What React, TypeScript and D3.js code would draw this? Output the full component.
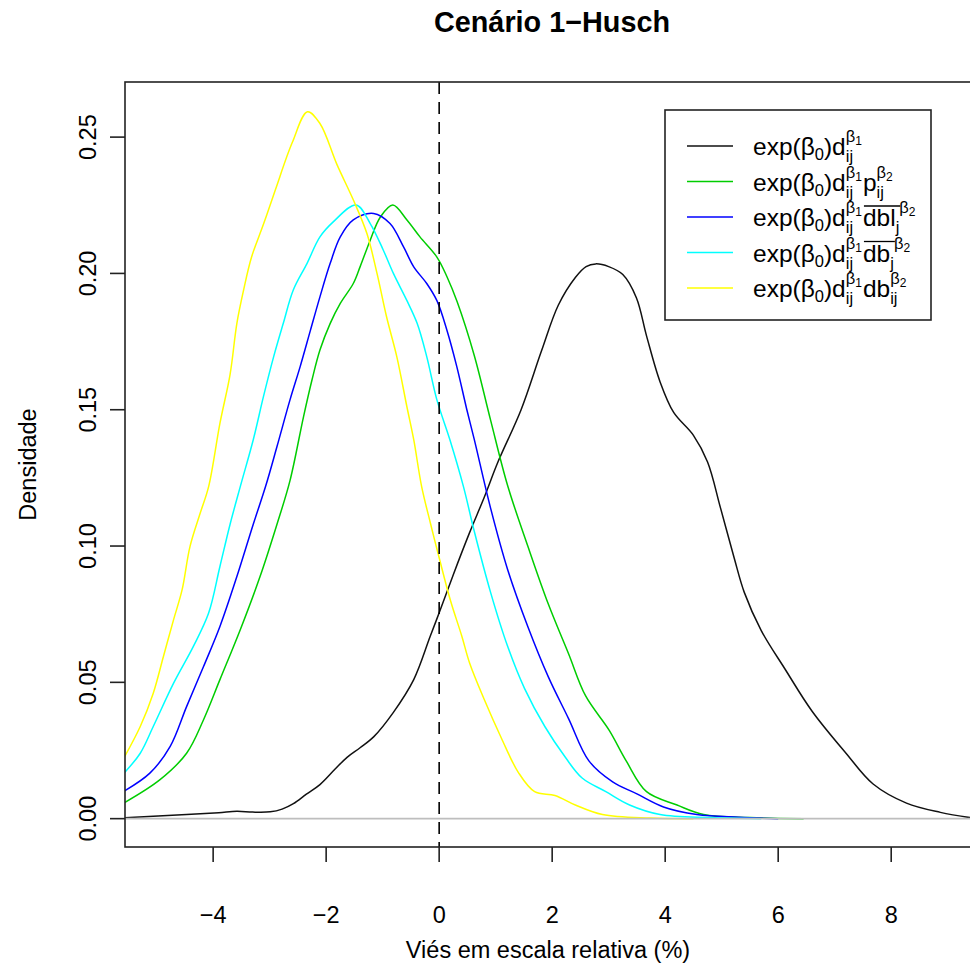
import React, { useEffect, useRef } from "react";
import * as d3 from "d3";

const W = 970;
const H = 967;
const FONT = "'Liberation Sans', Arial, Helvetica, sans-serif";

const titleText = "Cenário 1\u2212Husch";
const xLabel = "Viés em escala relativa (%)";
const yLabel = "Densidade";

const xTicks = [-4, -2, 0, 2, 4, 6, 8];
const yTicks = [0, 0.05, 0.1, 0.15, 0.2, 0.25];

// R palette: black, green3, blue, cyan, yellow
const seriesColors = ["#111111", "#00CD00", "#0000FF", "#00FFFF", "#FFFF00"];

// density curves, [x, density]
const blackCurve: [number, number][] = [
  [-5.6, 0.0003], [-4.47, 0.0015], [-3.9, 0.0022], [-3.58, 0.0027], [-3.3, 0.0024],
  [-2.99, 0.0025], [-2.78, 0.0035], [-2.58, 0.0055], [-2.35, 0.009], [-2.11, 0.0125],
  [-1.85, 0.018], [-1.63, 0.0225], [-1.4, 0.026], [-1.16, 0.03], [-0.81, 0.039],
  [-0.45, 0.051], [-0.16, 0.0668], [0.02, 0.0766], [0.25, 0.0895], [0.54, 0.105],
  [0.8, 0.118], [1.04, 0.1308], [1.45, 0.15], [1.81, 0.1715], [2.11, 0.1884],
  [2.41, 0.1985], [2.6, 0.2025], [2.77, 0.2035], [3.0, 0.2025], [3.25, 0.1996],
  [3.49, 0.1911], [3.67, 0.1771], [3.91, 0.1602], [4.15, 0.149], [4.5, 0.1406],
  [4.75, 0.1308], [4.98, 0.1139], [5.22, 0.0957], [5.4, 0.083], [5.7, 0.069],
  [6.12, 0.0549], [6.6, 0.0394], [7.2, 0.024], [7.68, 0.0127], [8.27, 0.0057],
  [8.87, 0.0023], [9.45, 0.0002],
];

const greenCurve: [number, number][] = [
  [-5.6, 0.0055], [-4.94, 0.0143], [-4.47, 0.024], [-4.17, 0.0363], [-3.88, 0.051],
  [-3.52, 0.0693], [-3.17, 0.0888], [-2.87, 0.108], [-2.64, 0.124], [-2.4, 0.1475],
  [-2.25, 0.161], [-2.11, 0.1719], [-1.93, 0.1816], [-1.75, 0.189], [-1.52, 0.1963],
  [-1.4, 0.2024], [-1.22, 0.2122], [-1.04, 0.2207], [-0.82, 0.2251], [-0.57, 0.2196],
  [-0.34, 0.2134], [-0.04, 0.206], [0.14, 0.1987], [0.32, 0.1895], [0.62, 0.17],
  [0.91, 0.1462], [1.21, 0.1223], [1.57, 0.0999], [1.93, 0.0788], [2.29, 0.0605],
  [2.59, 0.0451], [3.01, 0.0324], [3.31, 0.0212], [3.67, 0.0099], [4.21, 0.005],
  [4.68, 0.0015], [5.5, 0.0004], [6.45, 0],
];

const blueCurve: [number, number][] = [
  [-5.6, 0.0098], [-5.12, 0.0167], [-4.76, 0.0265], [-4.47, 0.0411], [-4.17, 0.0558],
  [-3.88, 0.0705], [-3.58, 0.0888], [-3.29, 0.108], [-3.07, 0.122], [-2.87, 0.1365],
  [-2.64, 0.1536], [-2.46, 0.1658], [-2.28, 0.179], [-2.11, 0.1914], [-1.93, 0.2036],
  [-1.75, 0.2134], [-1.52, 0.2196], [-1.16, 0.222], [-0.87, 0.2183], [-0.63, 0.2097],
  [-0.45, 0.2024], [-0.22, 0.1963], [-0.04, 0.19], [0.14, 0.179], [0.31, 0.166],
  [0.49, 0.15], [0.62, 0.1392], [0.91, 0.1139], [1.21, 0.0915], [1.57, 0.0704],
  [1.93, 0.0521], [2.29, 0.0367], [2.65, 0.0212], [3.07, 0.0135], [3.49, 0.0092],
  [3.97, 0.0043], [4.56, 0.0015], [5.3, 0.0005], [6.0, 0],
];

const cyanCurve: [number, number][] = [
  [-5.6, 0.0162], [-5.29, 0.024], [-5.06, 0.0338], [-4.7, 0.0497], [-4.35, 0.0632],
  [-4.08, 0.0754], [-3.88, 0.0925], [-3.7, 0.108], [-3.52, 0.1218], [-3.29, 0.139],
  [-3.11, 0.1548], [-2.93, 0.1694], [-2.76, 0.1816], [-2.58, 0.194], [-2.34, 0.2036],
  [-2.11, 0.2134], [-1.87, 0.219], [-1.47, 0.2251], [-1.22, 0.2183], [-0.99, 0.2086],
  [-0.81, 0.2], [-0.57, 0.19], [-0.39, 0.1817], [-0.22, 0.1695], [-0.04, 0.1536],
  [0.19, 0.139], [0.43, 0.1218], [0.62, 0.1055], [0.91, 0.083], [1.21, 0.0633],
  [1.51, 0.0478], [1.87, 0.0338], [2.23, 0.0226], [2.53, 0.0149], [2.95, 0.0099],
  [3.37, 0.005], [3.91, 0.0015], [4.8, 0.0004], [5.7, 0],
];

const yellowCurve: [number, number][] = [
  [-5.6, 0.0215], [-5.29, 0.0338], [-5.06, 0.046], [-4.88, 0.0595], [-4.7, 0.073],
  [-4.55, 0.0839], [-4.41, 0.0998], [-4.23, 0.112], [-4.08, 0.1218], [-3.88, 0.145],
  [-3.7, 0.163], [-3.58, 0.1817], [-3.46, 0.194], [-3.32, 0.206], [-3.11, 0.218],
  [-2.9, 0.2306], [-2.6, 0.248], [-2.33, 0.2593], [-2.11, 0.255], [-1.81, 0.24],
  [-1.52, 0.227], [-1.28, 0.2147], [-1.1, 0.2], [-0.93, 0.184], [-0.75, 0.1695],
  [-0.57, 0.151], [-0.45, 0.139], [-0.31, 0.1218], [-0.15, 0.108], [0, 0.0957],
  [0.2, 0.08], [0.4, 0.067], [0.54, 0.057], [0.8, 0.0436], [1.1, 0.0296],
  [1.4, 0.017], [1.69, 0.0099], [2.05, 0.0085], [2.41, 0.005], [2.89, 0.0015],
  [3.73, 0.0002], [4.5, 0],
];

const curves = [blackCurve, greenCurve, blueCurve, cyanCurve, yellowCurve];

// legend labels as plotmath-like tokens
type Tok =
  | { k: "t"; s: string }
  | { k: "sub"; s: string }
  | { k: "bar"; s: string; sub: string }
  | { k: "ss"; sub?: string; sup: string; supSub: string };

const head: Tok[] = [
  { k: "t", s: "exp(β" },
  { k: "sub", s: "0" },
  { k: "t", s: ")d" },
  { k: "ss", sub: "ij", sup: "β", supSub: "1" },
];

const legendLabels: Tok[][] = [
  [...head],
  [...head, { k: "t", s: "p" }, { k: "ss", sub: "ij", sup: "β", supSub: "2" }],
  [...head, { k: "bar", s: "dbl", sub: "j" }, { k: "ss", sup: "β", supSub: "2" }],
  [...head, { k: "bar", s: "db", sub: "j" }, { k: "ss", sup: "β", supSub: "2" }],
  [...head, { k: "t", s: "db" }, { k: "ss", sub: "ij", sup: "β", supSub: "2" }],
];

export default function App() {
  const ref = useRef<SVGSVGElement>(null);

  useEffect(() => {
    const svg = d3.select(ref.current);
    svg.selectAll("*").remove();

    const left = 125, top = 82, right = 972, bottom = 847;
    const fs = 23.5;

    const x = d3.scaleLinear().domain([-5.56, 9.43]).range([left, right]);
    const y = d3.scaleLinear().domain([-0.0104, 0.2704]).range([bottom, top - 0.5]);

    svg.append("rect").attr("width", W).attr("height", H).attr("fill", "white");

    svg.append("clipPath").attr("id", "plot-clip")
      .append("rect")
      .attr("x", left).attr("y", top)
      .attr("width", right - left).attr("height", bottom - top);

    const plot = svg.append("g").attr("clip-path", "url(#plot-clip)");

    const line = d3.line<[number, number]>()
      .x(d => x(d[0]))
      .y(d => y(Math.max(0, d[1])))
      .curve(d3.curveCatmullRom.alpha(0.5));

    curves.forEach((c, i) => {
      plot.append("path")
        .attr("d", line(c))
        .attr("fill", "none")
        .attr("stroke", seriesColors[i])
        .attr("stroke-width", 1.5);
    });

    // abline(h = 0) and abline(v = 0)
    plot.append("line")
      .attr("x1", left).attr("x2", right)
      .attr("y1", y(0)).attr("y2", y(0))
      .attr("stroke", "#BEBEBE").attr("stroke-width", 1.6);
    plot.append("line")
      .attr("x1", x(0)).attr("x2", x(0))
      .attr("y1", top).attr("y2", bottom)
      .attr("stroke", "#000").attr("stroke-width", 1.6)
      .attr("stroke-dasharray", "12,8");

    // frame
    svg.append("rect")
      .attr("x", left).attr("y", top)
      .attr("width", right - left).attr("height", bottom - top)
      .attr("fill", "none").attr("stroke", "#222").attr("stroke-width", 1.6);

    // x axis
    const xa = svg.append("g").attr("font-family", FONT).attr("font-size", fs);
    xTicks.forEach(t => {
      xa.append("line")
        .attr("x1", x(t)).attr("x2", x(t))
        .attr("y1", bottom).attr("y2", bottom + 15)
        .attr("stroke", "#222").attr("stroke-width", 1.6);
      xa.append("text")
        .attr("x", x(t)).attr("y", 923)
        .attr("text-anchor", "middle")
        .text(d3.format("d")(t));
    });

    // y axis
    const ya = svg.append("g").attr("font-family", FONT).attr("font-size", fs);
    yTicks.forEach(t => {
      ya.append("line")
        .attr("x1", left - 15).attr("x2", left)
        .attr("y1", y(t)).attr("y2", y(t))
        .attr("stroke", "#222").attr("stroke-width", 1.6);
      ya.append("text")
        .attr("transform", `translate(96,${y(t)}) rotate(-90)`)
        .attr("text-anchor", "middle")
        .text(d3.format(".2f")(t));
    });

    svg.append("text")
      .attr("x", 552).attr("y", 32)
      .attr("text-anchor", "middle")
      .attr("font-family", FONT).attr("font-size", 28.8).attr("font-weight", "bold")
      .text(titleText);

    svg.append("text")
      .attr("x", 548).attr("y", 958)
      .attr("text-anchor", "middle")
      .attr("font-family", FONT).attr("font-size", fs)
      .text(xLabel);

    svg.append("text")
      .attr("transform", `translate(36,${(top + bottom) / 2}) rotate(-90)`)
      .attr("text-anchor", "middle")
      .attr("font-family", FONT).attr("font-size", fs)
      .text(yLabel);

    // legend
    const lg = svg.append("g").attr("font-family", FONT).attr("fill", "#000");
    lg.append("rect")
      .attr("x", 665).attr("y", 110)
      .attr("width", 266).attr("height", 210)
      .attr("fill", "white").attr("stroke", "#222").attr("stroke-width", 1.6);

    const s0 = 24.5, s1 = 16.5, s2 = 12;
    const put = (s: string, px: number, py: number, size: number) => {
      const t = lg.append("text").attr("x", px).attr("y", py).attr("font-size", size).text(s);
      return (t.node() as SVGTextElement).getComputedTextLength();
    };

    legendLabels.forEach((toks, i) => {
      const cy = 146 + i * 35.5;
      lg.append("line")
        .attr("x1", 687).attr("x2", 733)
        .attr("y1", cy).attr("y2", cy)
        .attr("stroke", seriesColors[i]).attr("stroke-width", 1.5);
      const base = cy + 9;
      let cx = 753;
      toks.forEach(tk => {
        if (tk.k === "t") {
          cx += put(tk.s, cx, base, s0);
        } else if (tk.k === "sub") {
          cx += put(tk.s, cx, base + 5, s1);
        } else if (tk.k === "bar") {
          const x0 = cx;
          cx += put(tk.s, cx, base, s0);
          cx += put(tk.sub, cx, base + 7, s1);
          lg.append("line")
            .attr("x1", x0 + 1).attr("x2", cx + 1)
            .attr("y1", base - 20).attr("y2", base - 20)
            .attr("stroke", "#000").attr("stroke-width", 1.3);
        } else {
          const wSub = tk.sub ? put(tk.sub, cx, base + 7, s1) : 0;
          const wB = put(tk.sup, cx, base - 13, s1);
          const w1 = put(tk.supSub, cx + wB, base - 10, s2);
          cx += Math.max(wSub, wB + w1) + 1;
        }
      });
    });
  }, []);

  return (
    <svg
      ref={ref}
      width={W}
      height={H}
      style={{ position: "absolute", left: 0, top: 0, display: "block" }}
    />
  );
}
